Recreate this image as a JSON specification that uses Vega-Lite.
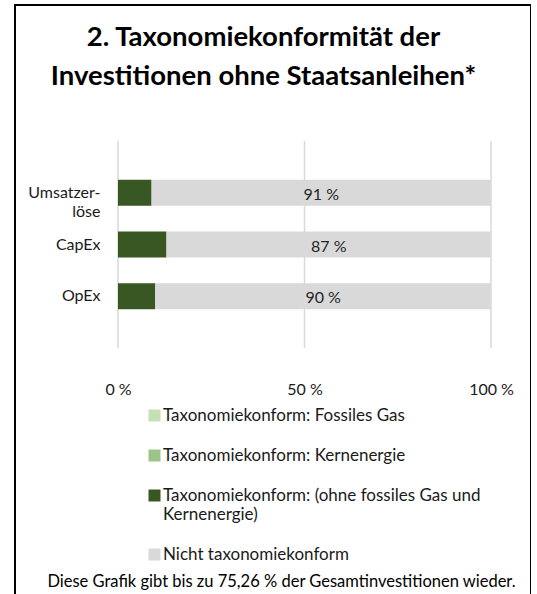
{
  "$schema": "https://vega.github.io/schema/vega-lite/v6.json",
  "width": 516,
  "height": 600,
  "autosize": "none",
  "padding": {"left": 15, "top": 5, "right": 0, "bottom": 0},
  "background": "white",
  "title": {
    "text": ["2. Taxonomiekonformität der", "Investitionen ohne Staatsanleihen*"],
    "anchor": "middle",
    "frame": "group",
    "orient": "top",
    "offset": -85,
    "dx": -9.5,
    "font": "Lato",
    "fontWeight": "bold",
    "fontSize": 27.5,
    "lineHeight": 39,
    "color": "#000000"
  },
  "data": {
    "values": [
      {"cat": "Umsatzerlöse", "series": "Taxonomiekonform: Fossiles Gas", "value": 0, "ord": 0, "label": ""},
      {"cat": "Umsatzerlöse", "series": "Taxonomiekonform: Kernenergie", "value": 0, "ord": 0, "label": ""},
      {"cat": "Umsatzerlöse", "series": "Taxonomiekonform: (ohne fossiles Gas und Kernenergie)", "value": 9, "ord": 1, "label": ""},
      {"cat": "Umsatzerlöse", "series": "Nicht taxonomiekonform", "value": 91, "ord": 2, "label": "91 %"},
      {"cat": "CapEx", "series": "Taxonomiekonform: Fossiles Gas", "value": 0, "ord": 0, "label": ""},
      {"cat": "CapEx", "series": "Taxonomiekonform: Kernenergie", "value": 0, "ord": 0, "label": ""},
      {"cat": "CapEx", "series": "Taxonomiekonform: (ohne fossiles Gas und Kernenergie)", "value": 13, "ord": 1, "label": ""},
      {"cat": "CapEx", "series": "Nicht taxonomiekonform", "value": 87, "ord": 2, "label": "87 %"},
      {"cat": "OpEx", "series": "Taxonomiekonform: Fossiles Gas", "value": 0, "ord": 0, "label": ""},
      {"cat": "OpEx", "series": "Taxonomiekonform: Kernenergie", "value": 0, "ord": 0, "label": ""},
      {"cat": "OpEx", "series": "Taxonomiekonform: (ohne fossiles Gas und Kernenergie)", "value": 10, "ord": 1, "label": ""},
      {"cat": "OpEx", "series": "Nicht taxonomiekonform", "value": 90, "ord": 2, "label": "90 %"}
    ]
  },
  "encoding": {
    "x": {
      "field": "value",
      "type": "quantitative",
      "stack": "zero",
      "scale": {"domain": [0, 100], "range": [103, 476]},
      "axis": {
        "orient": "bottom",
        "offset": -257,
        "values": [0, 50, 100],
        "domain": false,
        "ticks": false,
        "grid": false,
        "labelPadding": 33,
        "labelFont": "Lato",
        "labelFontSize": 16,
        "labelColor": "#1a1a1a",
        "labelExpr": "datum.value + ' %'",
        "labelFlush": false,
        "title": "Diese Grafik gibt bis zu 75,26 % der Gesamtinvestitionen wieder.",
        "titleFont": "Lato",
        "titleFontWeight": "normal",
        "titleFontSize": 16.5,
        "titleColor": "#000000",
        "titleX": 266,
        "titleY": 238,
        "titleAlign": "center",
        "titleBaseline": "alphabetic"
      }
    }
  },
  "layer": [
    {
      "data": {"values": [{"value": 0}, {"value": 50}, {"value": 100}]},
      "mark": {"type": "rule", "color": "#d9d9d9", "strokeWidth": 1.5},
      "encoding": {
        "x": {"field": "value", "type": "quantitative", "stack": null, "title": "Diese Grafik gibt bis zu 75,26 % der Gesamtinvestitionen wieder."},
        "y": {"datum": 0, "type": "quantitative", "scale": {"domain": [0, 1], "range": [136, 343]}, "axis": null},
        "y2": {"datum": 1}
      }
    },
    {
      "mark": {"type": "bar"},
      "encoding": {
        "y": {
          "field": "cat",
          "type": "nominal",
          "sort": ["Umsatzerlöse", "CapEx", "OpEx"],
          "scale": {"range": [136, 343], "paddingInner": 0.5, "paddingOuter": 0.75},
          "axis": {
            "orient": "left",
            "offset": -103,
            "title": null,
            "domain": false,
            "ticks": false,
            "grid": false,
            "labelPadding": 18,
            "labelFont": "Lato",
            "labelFontSize": 16,
            "labelColor": "#1a1a1a",
            "labelLineHeight": 19,
            "labelExpr": "datum.value == 'Umsatzerlöse' ? ['Umsatzer-', 'löse'] : datum.value"
          }
        },
        "order": {"field": "ord", "type": "quantitative"},
        "color": {
          "field": "series",
          "type": "nominal",
          "scale": {
            "domain": [
              "Taxonomiekonform: Fossiles Gas",
              "Taxonomiekonform: Kernenergie",
              "Taxonomiekonform: (ohne fossiles Gas und Kernenergie)",
              "Nicht taxonomiekonform"
            ],
            "range": ["#c5e0b4", "#9dc488", "#385723", "#d9d9d9"]
          },
          "legend": {
            "orient": "none",
            "legendX": 131,
            "legendY": 402,
            "padding": 0,
            "title": null,
            "symbolType": "square",
            "symbolSize": 144,
            "symbolStrokeWidth": 0,
            "labelFont": "Lato",
            "labelFontSize": 17,
            "labelColor": "#1a1a1a",
            "labelLineHeight": 21,
            "labelLimit": 500,
            "labelOffset": 0,
            "rowPadding": 22,
            "labelExpr": "datum.value == 'Taxonomiekonform: (ohne fossiles Gas und Kernenergie)' ? ['Taxonomiekonform: (ohne fossiles Gas und', 'Kernenergie)'] : datum.value"
          }
        }
      }
    },
    {
      "mark": {"type": "text", "font": "Lato", "fontSize": 16, "color": "#262626", "baseline": "middle", "dy": 2},
      "encoding": {
        "y": {
          "field": "cat",
          "type": "nominal",
          "sort": ["Umsatzerlöse", "CapEx", "OpEx"],
          "scale": {"type": "band", "range": [136, 343], "paddingInner": 0.5, "paddingOuter": 0.75},
          "axis": null
        },
        "order": {"field": "ord", "type": "quantitative"},
        "x": {"field": "value", "type": "quantitative", "stack": "zero", "bandPosition": 0.5},
        "text": {"field": "label"}
      }
    }
  ],
  "resolve": {"scale": {"y": "independent"}, "axis": {"y": "independent"}},
  "config": {
    "view": {"stroke": "#000000", "strokeWidth": 2}
  }
}
